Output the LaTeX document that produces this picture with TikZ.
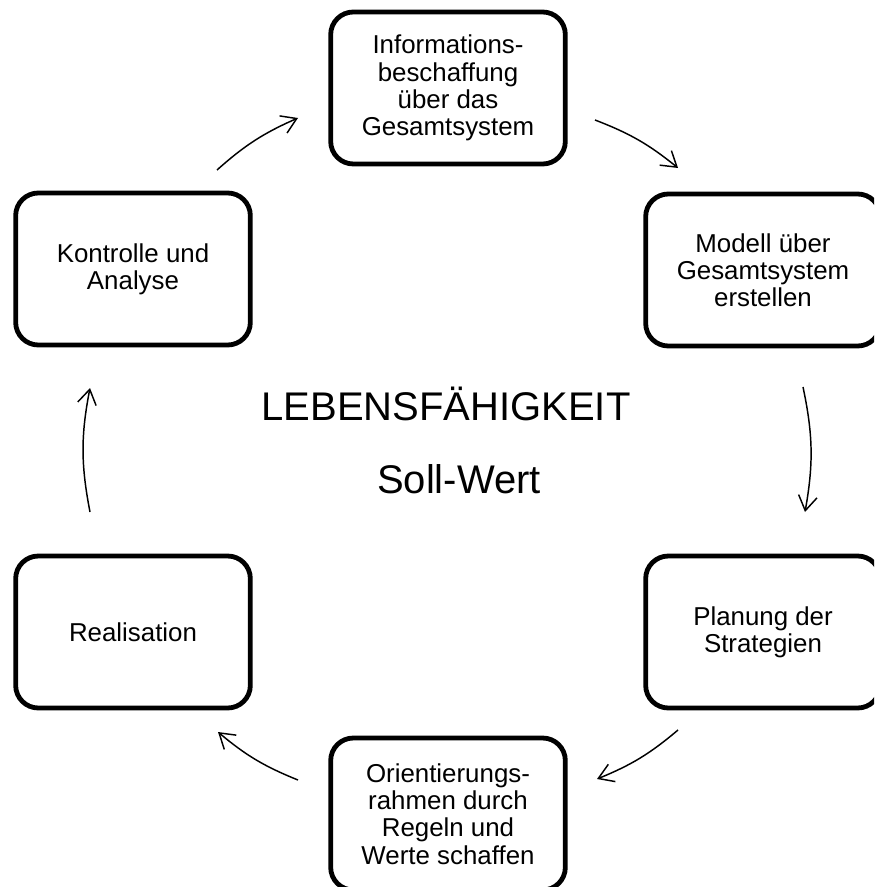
\documentclass[tikz,border=0pt]{standalone}
\usepackage{fontspec}
\setmainfont{Liberation Sans}
\usetikzlibrary{arrows.meta}

\tikzset{
  stufe/.style={draw, line width=3.6pt, rounded corners=17pt, minimum width=176pt, minimum height=114pt, align=center, inner sep=0pt, font=\fontsize{19.4}{20.4}\selectfont},
  pfeil/.style={line width=1.1pt, -{Straight Barb[length=11pt,width=14pt]}},
  mitte/.style={anchor=base, font=\fontsize{30}{36}\selectfont}
}

\begin{document}
\begin{tikzpicture}[x=0.75pt,y=0.75pt,yscale=-1,xscale=1]
\useasboundingbox (0,0) rectangle (874,887);
\clip (0,0) rectangle (874,887);

%Rounded Rect
\node[stufe] (info) at (448,88) {Informations-\\beschaffung\\über das\\Gesamtsystem};
\node[stufe] (modell) at (763,270) {Modell über\\Gesamtsystem\\erstellen};
\node[stufe] (planung) at (763,632) {Planung der\\Strategien};
\node[stufe] (rahmen) at (448,814) {Orientierungs-\\rahmen durch\\Regeln und\\Werte schaffen};
\node[stufe] (real) at (133,632) {Realisation};
\node[stufe] (kontrolle) at (133,269) {Kontrolle und\\Analyse};

%Text Node
\node[mitte] (ziel) at (446,420) {LEBENSFÄHIGKEIT};
\node[mitte] (soll) at (459,493) {Soll-Wert};

%Curve Lines
\coordinate (k1) at (217,170); \coordinate (i1) at (298,118);
\coordinate (i2) at (595,120); \coordinate (m1) at (678,168);
\coordinate (m2) at (803,387); \coordinate (p1) at (805,512);
\coordinate (p2) at (678,730); \coordinate (r1) at (597,779);
\coordinate (r2) at (298,780); \coordinate (e1) at (218,732);
\coordinate (e2) at (90,512);  \coordinate (k2) at (90,388);

\draw[pfeil] (k1) to[bend right=9] (i1);
\draw[pfeil] (i2) to[bend right=9] (m1);
\draw[pfeil] (m2) to[bend right=11] (p1);
\draw[pfeil] (p2) to[bend right=9] (r1);
\draw[pfeil] (r2) to[bend right=9] (e1);
\draw[pfeil] (e2) to[bend right=11] (k2);
\end{tikzpicture}
\end{document}
